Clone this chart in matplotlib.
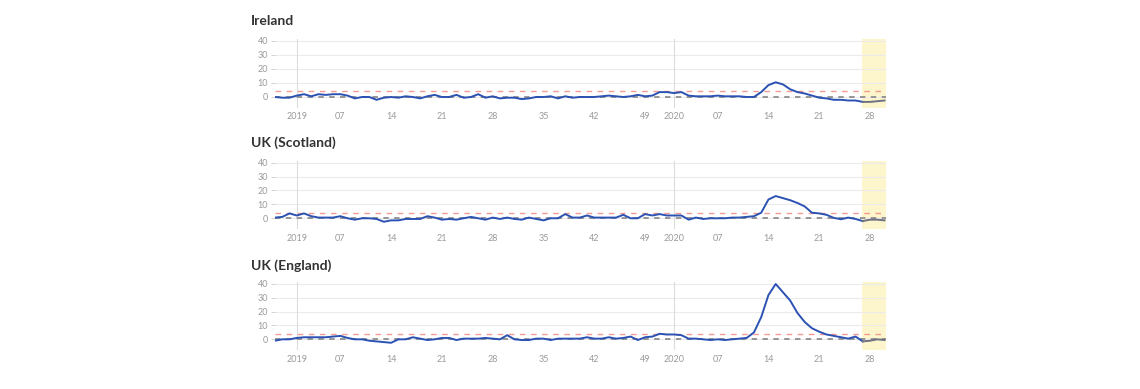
import numpy as np
import matplotlib
matplotlib.use("Agg")
import matplotlib.pyplot as plt

plt.rcParams['font.family'] = ['Lato', 'DejaVu Sans']

# weeks counted from 2019 week 1 (= 0); 2020 week 1 = 52
weeks = list(range(-3, 82))

ireland = [0, -0.5, -0.5, 1, 2, 0.5, 2, 1.5, 2, 2, 1, -1, 0, 0, -2, -0.5, 0, -0.5, 0.5, 0,
           -1, 0.5, 1.5, 0, 0, 1.5, -0.5, 0, 2, -0.5, 0.5, -1, -0.5, -0.5, -1.5, -1, 0, 0, 0.5, -1,
           0.5, -0.5, 0, 0, 0, 0.5, 1, 0.5, 0, 0.5, 1.5, 0.5, 1, 3.5, 3.5, 2.8, 3.5, 1, 0.5, 0.5,
           0.5, 1, 0.5, 0.5, 0.5, 0, 0, 3.5, 8.5, 10.5, 9, 5.5, 3.5, 2.5, 1, -0.5, -1, -2, -2, -2.5,
           -2.5, -3.5, -3.5, -3, -2.5]

scotland = [0.5, 1, 3.5, 2, 3.5, 1.5, 0.5, 0.5, 0.5, 1.5, 0, -1, 0, 0, -0.5, -2.5, -1.5, -1.5, -0.5, -0.5,
            -0.5, 1.5, 0.5, -1, -0.5, -1, 0, 1, 0, -1, 0.5, -0.5, 0.5, -0.5, -1, 0.5, -0.5, -1.5, 0, 0,
            3, 0.5, 0.5, 2, 0.5, 0.5, 0.5, 0.5, 2.5, 0, 0, 3, 2, 3, 2, 2, 2, -1, 0.5, -0.5,
            0, 0, 0, 0.5, 0.5, 1, 1.5, 4, 13.5, 16, 14.5, 13, 11, 8.5, 4, 3.5, 2.5, 0.3, -0.7, 0.5,
            -0.5, -2, -1, -1, -1.5]

england = [-1, 0, 0, 1, 1.5, 1.5, 1.5, 1.5, 2, 2.5, 1, 0, 0, -1, -1.5, -2, -2.5, 0, 0, 1.5,
           0.5, -0.5, 0, 1, 1, -0.5, 0.5, 0.5, 0.5, 1, 0.5, 0, 3, 0, -0.5, -0.5, 0.5, 0.5, -0.5, 0.5,
           0.5, 0.5, 0.5, 1.5, 0.5, 0.5, 1.5, 0.5, 1, 2, -0.5, 1.5, 2, 4, 3.5, 3.5, 3, 0.5, 0.5, 0,
           -0.5, 0, -0.5, 0, 0.5, 1, 5, 16, 32, 40, 34, 28, 19, 12.5, 8, 5.5, 3.5, 2.5, 1.5, 0.5,
           2, -1.5, -1, 0, -0.5]

countries = ['Ireland', 'UK (Scotland)', 'UK (England)']
series = [ireland, scotland, england]

tick_weeks = [0, 6, 13, 20, 27, 34, 41, 48, 52, 58, 65, 72, 79]
tick_labels = ['2019', '07', '14', '21', '28', '35', '42', '49', '2020', '07', '14', '21', '28']

threshold = 4          # red dashed line
provisional_from = 78  # yellow shaded weeks at the end

fig = plt.figure(figsize=(11.4, 3.89), dpi=100)

# panel layout in figure pixels: (title y, axis top, axis bottom)
panels = [(21, 38.9, 108.2), (143, 160.6, 229.4), (266, 281.9, 350.4)]
W, H = 1140, 389

blue = '#2b52b3'
x = np.array(weeks)

for (title_y, top, bottom), name, vals in zip(panels, countries, series):
    ax = fig.add_axes([275 / W, 1 - bottom / H, (886 - 275) / W, (bottom - top) / H])
    y = np.array(vals, dtype=float)

    # shaded provisional weeks
    ax.axvspan(provisional_from - 0.1, 81.2, color='#fdf5cc', zorder=0, lw=0)

    # grid: horizontal lines + year boundaries
    for g in [0, 10, 20, 30, 40]:
        ax.axhline(g, color='#ebebeb', lw=0.8, zorder=1)
    for yr in [0, 52]:
        ax.axvline(yr, color='#dcdcdc', lw=0.8, zorder=1)

    ax.axhline(threshold, color='#f39a92', lw=1.0, ls=(0, (4, 4)), zorder=2)
    ax.axhline(0, color='#8e8e8e', lw=1.3, ls=(0, (3, 3)), zorder=2)

    m = x <= provisional_from
    ax.plot(x[m], y[m], color=blue, lw=1.4, zorder=3, solid_joinstyle='round')
    ax.plot(x[~m | (x == provisional_from)], y[~m | (x == provisional_from)],
            color='#6f7282', lw=1.4, zorder=3)

    ax.set_xlim(-3, 81.2)
    ax.set_ylim(-8, 41.5)
    ax.set_yticks([0, 10, 20, 30, 40])
    ax.set_xticks(tick_weeks)
    ax.set_xticklabels(tick_labels)
    ax.tick_params(axis='both', labelsize=6.5, labelcolor='#9a9a9a', color='#cccccc')
    ax.tick_params(axis='x', length=0, pad=3)
    ax.tick_params(axis='y', length=3, width=0.6, pad=2)
    for s in ax.spines.values():
        s.set_visible(False)

    fig.text(251 / W, 1 - title_y / H, name, fontsize=10, fontweight='bold',
             color='#333333', va='center', ha='left')

fig.savefig('out.png', dpi=100, facecolor='white')
